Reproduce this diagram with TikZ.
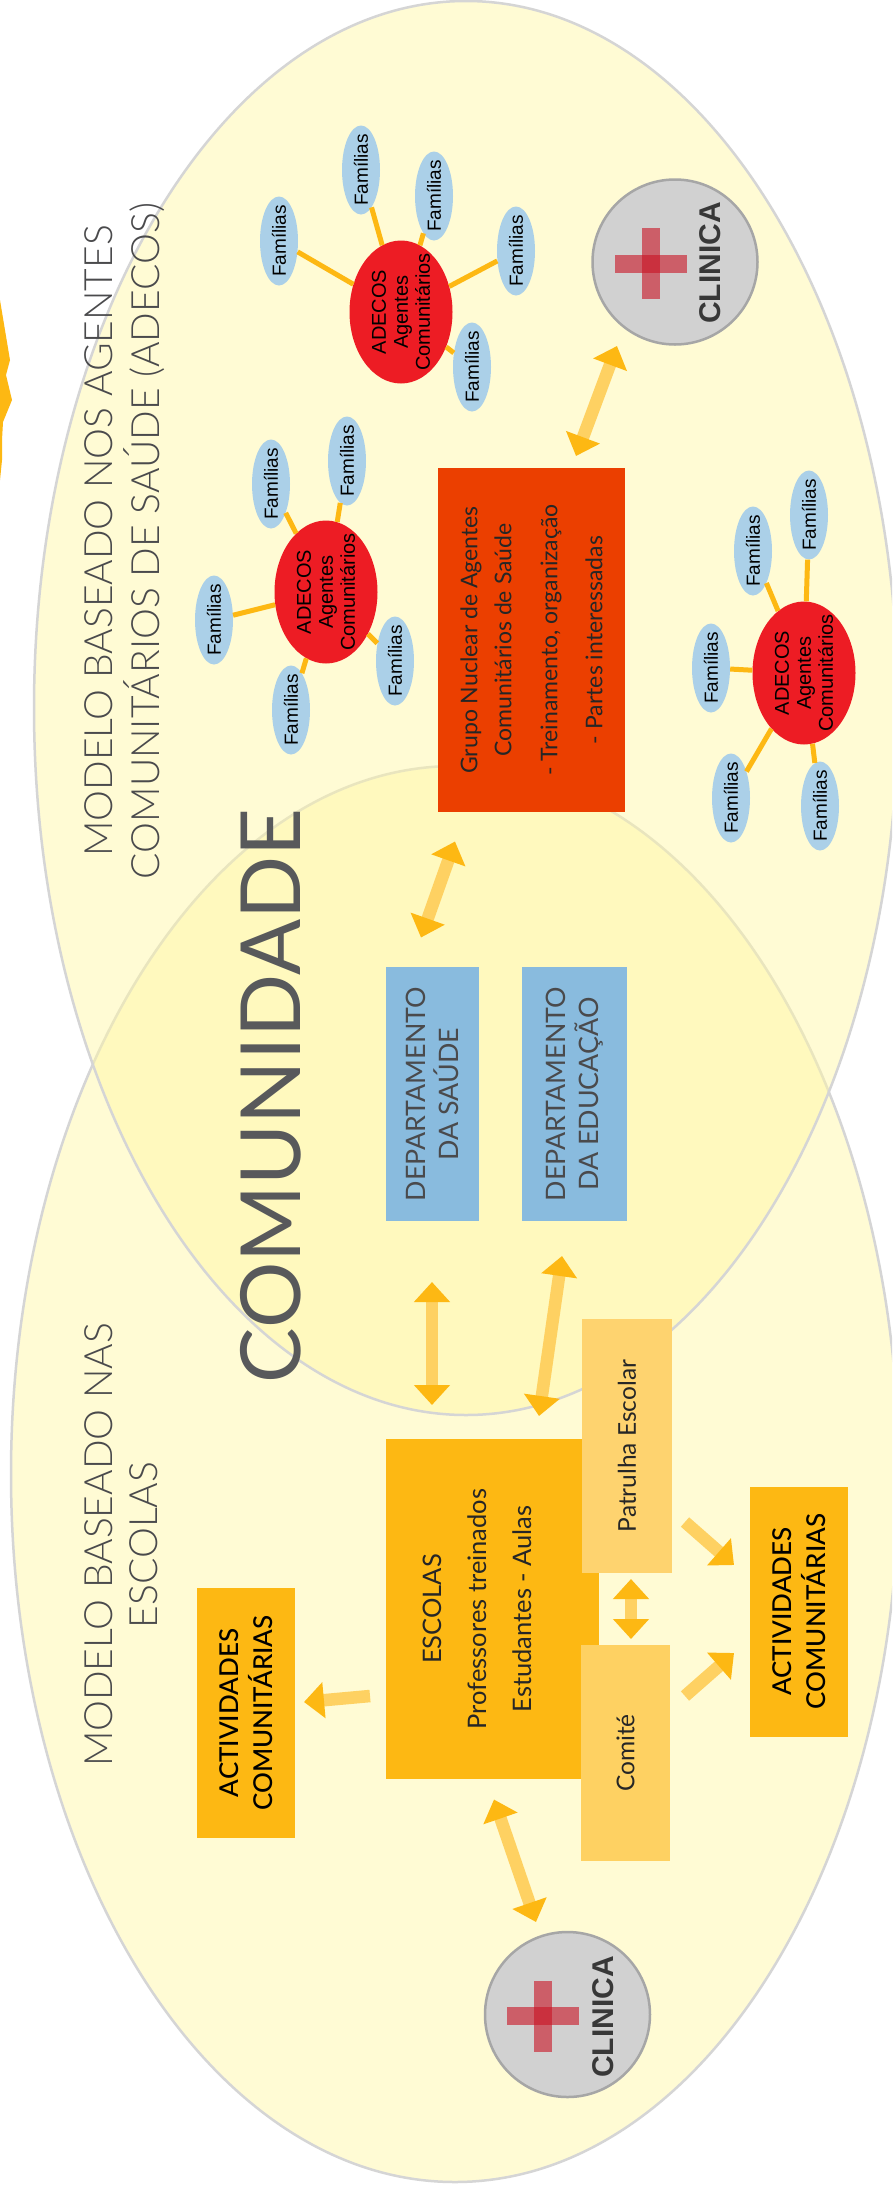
\documentclass[tikz,border=0pt]{standalone}
\usepackage{fontspec}
\setmainfont{Lato}
\newfontfamily\lightfont{Lato Light}
\newfontfamily\mediumfont{Lato Medium}
\newfontfamily\arialfont{Liberation Sans}
\usetikzlibrary{arrows.meta}
\usetikzlibrary{shapes.geometric}
\definecolor{ZoneFill}{HTML}{FFF7A7}
\definecolor{ZoneLine}{HTML}{D5D5D5}
\definecolor{PlotOrange}{HTML}{FDB813}
\definecolor{PlotPale}{HTML}{FED162}
\definecolor{PlotPatrol}{HTML}{FED36F}
\definecolor{PlotBlue}{HTML}{89BBDE}
\definecolor{PlotFamily}{HTML}{ABD0E8}
\definecolor{PlotRed}{HTML}{ED1C24}
\definecolor{PlotCross}{HTML}{CA1222}
\definecolor{PlotCore}{HTML}{EB3F00}
\definecolor{PlotText}{HTML}{58595B}
\definecolor{PlotTitle}{HTML}{4A4A4C}
\tikzset{
  zone/.style={fill=ZoneFill, fill opacity=0.48, draw=ZoneLine, line width=2.5pt},
  box/.style={rotate=90, inner sep=0pt, align=center, text=black!85},
  bodytext/.style={font=\fontsize{24.5}{34}\selectfont},
  dept/.style={box, fill=PlotBlue, text=PlotTitle, font=\fontsize{26.8}{33}\selectfont},
  activ/.style={box, fill=PlotOrange, text=black, font=\mediumfont\fontsize{26}{34}\selectfont},
  title/.style={rotate=90, inner sep=0pt, align=center, text=PlotTitle, font=\lightfont\fontsize{39}{45}\selectfont},
  family/.style={ellipse, rotate=90, inner ysep=0pt, inner xsep=-5pt, minimum width=89pt, minimum height=38pt, fill=PlotFamily,
    font=\arialfont\fontsize{19}{22}\selectfont},
  adecos/.style={ellipse, rotate=90, inner ysep=0pt, inner xsep=-9pt, minimum width=143pt, minimum height=103pt, fill=PlotRed, align=center,
    font=\arialfont\fontsize{20}{22}\selectfont},
  link/.style={draw=PlotOrange, line width=5pt},
  clinica/.style={circle, minimum size=165pt, inner sep=0pt, fill=black!18, draw=black!35, line width=2.5pt},
  clinicatext/.style={rotate=90, inner sep=0pt, text=black!78, font=\arialfont\bfseries\fontsize{30}{30}\selectfont},
  crossbar/.style={fill=PlotCross, fill opacity=0.6},
  bigarrow/.style={draw=PlotPale, line width=12.5pt,
    {Triangle[color=PlotOrange,length=20pt,width=35pt]}-{Triangle[color=PlotOrange,length=20pt,width=35pt]}},
  onearrow/.style={draw=PlotPale, line width=12.5pt,
    -{Triangle[color=PlotOrange,length=20pt,width=35pt]}},
}
\begin{document}
\begin{tikzpicture}[x=1pt,y=-1pt]
    \clip (0,0) rectangle (892,2190);
    \fill[white] (0,0) rectangle (892,2190);
    \fill[PlotOrange] (0,300) -- (5,330) -- (10,360) -- (6,375) -- (12,400)
      -- (3,422) -- (2,440) -- (2,460) -- (0,480) -- cycle;
    % the two zones
    \draw[zone] (455,1474) ellipse (444 and 708);
    \draw[zone] (466,708) ellipse (432 and 707);
    \node (titleAdecos) at (99,541) [title] {MODELO BASEADO NOS AGENTES};
    \node (titleAdecosB) at (144,541) [title] {COMUNITÁRIOS DE SAÚDE (ADECOS)};
    \node (titleEscolas) at (99,1545) [title] {MODELO BASEADO NAS};
    \node (titleEscolasB) at (144,1545) [title] {ESCOLAS};
    \node (comunidade) at (271,1096) [rotate=90, inner sep=0pt, text=PlotText,
      font=\fontsize{83}{83}\selectfont] {COMUNIDADE};
    % first group of families
    \node (adecosA) at (401,312) [adecos] {ADECOS\\Agentes\\Comunitários};
    \node (famAa) at (279,241) [family] {Famílias};
    \node (famAb) at (361,170) [family] {Famílias};
    \node (famAc) at (434,196) [family] {Famílias};
    \node (famAd) at (516,251) [family] {Famílias};
    \node (famAe) at (472,367) [family] {Famílias};
    \foreach \fam in {famAa,famAb,famAc,famAd,famAe}
      \draw[link] (\fam) -- (adecosA);
    % second group
    \node (adecosB) at (326,592) [adecos] {ADECOS\\Agentes\\Comunitários};
    \node (famBa) at (214,620) [family] {Famílias};
    \node (famBb) at (291,710) [family] {Famílias};
    \node (famBc) at (395,661) [family] {Famílias};
    \node (famBd) at (347,461) [family] {Famílias};
    \node (famBe) at (271,484) [family] {Famílias};
    \foreach \fam in {famBa,famBb,famBc,famBd,famBe}
      \draw[link] (\fam) -- (adecosB);
    % third group
    \node (adecosC) at (804,673) [adecos] {ADECOS\\Agentes\\Comunitários};
    \node (famCa) at (809,515) [family] {Famílias};
    \node (famCb) at (753,551) [family] {Famílias};
    \node (famCc) at (711,668) [family] {Famílias};
    \node (famCd) at (731,798) [family] {Famílias};
    \node (famCe) at (820,806) [family] {Famílias};
    \foreach \fam in {famCa,famCb,famCc,famCd,famCe}
      \draw[link] (\fam) -- (adecosC);
    % clinics
    \node (clinicaA) at (675,262) [clinica] {};
    \fill[crossbar] (642,228) rectangle (660,299);
    \fill[crossbar] (615,255) rectangle (687,273);
    \node (clinicaAtext) at (710,263) [clinicatext] {CLINICA};
    \node (clinicaB) at (567.5,2014.5) [clinica] {};
    \fill[crossbar] (534,1981) rectangle (552,2052);
    \fill[crossbar] (507,2007) rectangle (579,2025);
    \node (clinicaBtext) at (603,2017) [clinicatext] {CLINICA};
    % boxes
    \node (grupo) at (531.5,640) [box, fill=PlotCore, minimum width=344pt, minimum height=187pt,
      font=\fontsize{23}{34}\selectfont]
      {Grupo Nuclear de Agentes\\Comunitários de Saúde\\[12pt]- Treinamento, organização\\[11pt]- Partes interessadas};
    \node (saude) at (432.5,1094) [dept, minimum width=254pt, minimum height=93pt] {DEPARTAMENTO\\DA SAÚDE};
    \node (educacao) at (574.5,1094) [dept, minimum width=254pt, minimum height=105pt] {DEPARTAMENTO\\DA EDUCAÇÃO};
    \node (escolas) at (492.5,1609) [box, fill=PlotOrange, minimum width=340pt, minimum height=213pt] {};
    \node (escolastext) at (477,1609) [box, font=\fontsize{25.5}{45}\selectfont]
      {ESCOLAS\\Professores treinados\\Estudantes - Aulas};
    \node (patrulha) at (627,1446) [box, bodytext, fill=PlotPatrol, minimum width=254pt, minimum height=90pt] {Patrulha Escolar};
    \node (comite) at (625.5,1753) [box, bodytext, fill=PlotPale, minimum width=216pt, minimum height=89pt] {Comité};
    \node (activLeft) at (246,1713) [activ, minimum width=250pt, minimum height=98pt] {ACTIVIDADES\\COMUNITÁRIAS};
    \node (activRight) at (799,1611.5) [activ, minimum width=250pt, minimum height=98pt] {ACTIVIDADES\\COMUNITÁRIAS};
    % arrows
    \draw[bigarrow] ([shift={(44.5,-184)}]grupo.center) -- ([shift={(-58,84)}]clinicaA.center);
    \draw[bigarrow] ([shift={(-76.5,201.5)}]grupo.center) -- ([shift={(-11.5,-156.5)}]saude.center);
    \draw[bigarrow] ([shift={(-0.5,188)}]saude.center) -- ([shift={(-60.5,-204)}]escolas.center);
    \draw[bigarrow] ([shift={(-12.5,162)}]educacao.center) -- ([shift={(46.5,-193)}]escolas.center);
    \draw[onearrow] ([shift={(-122.5,87)}]escolas.center) -- ([shift={(58,-11)}]activLeft.center);
    \draw[bigarrow] ([shift={(1.5,190.5)}]escolas.center) -- ([shift={(-31.5,-92.5)}]clinicaB.center);
    \draw[bigarrow] ([shift={(4,133)}]patrulha.center) -- ([shift={(5.5,-114)}]comite.center);
    \draw[onearrow] ([shift={(58,76)}]patrulha.center) -- ([shift={(-65,-46.5)}]activRight.center);
    \draw[onearrow] ([shift={(59.5,-57)}]comite.center) -- ([shift={(-65,41.5)}]activRight.center);
  \end{tikzpicture}
\end{document}
